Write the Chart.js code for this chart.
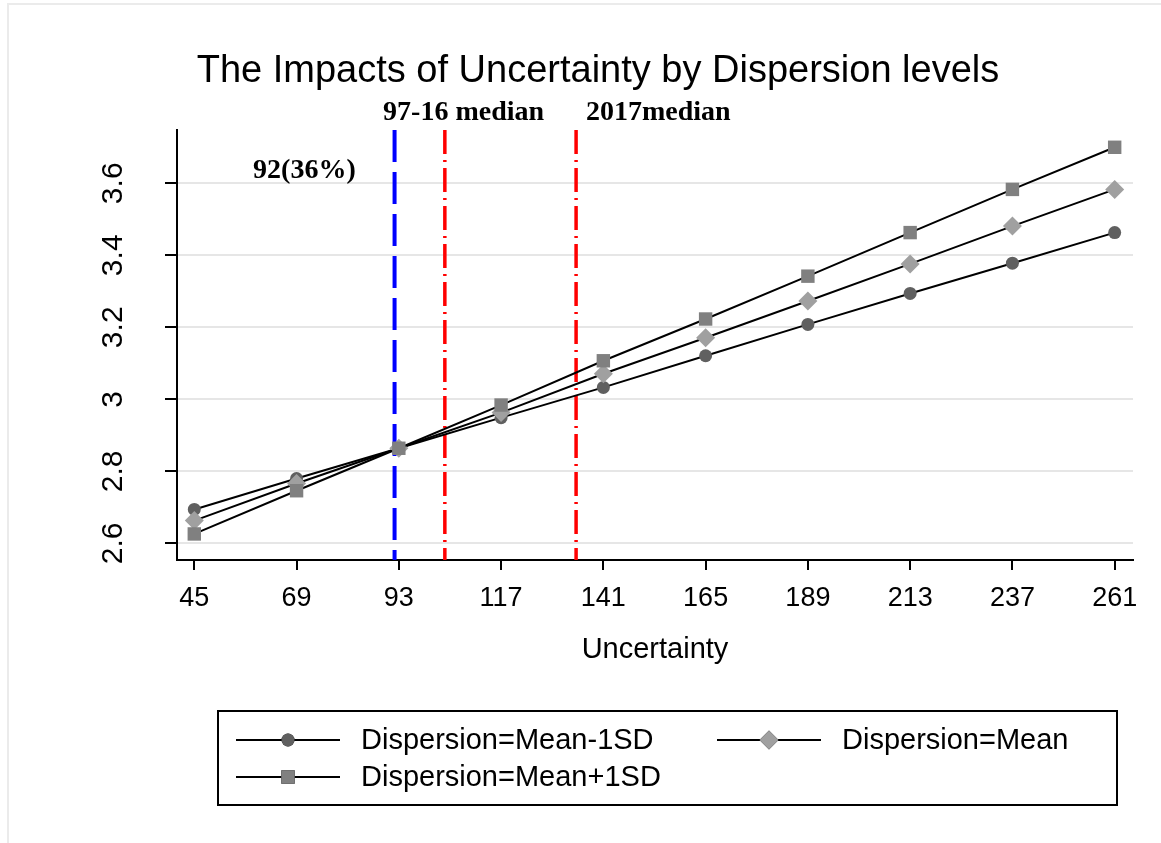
<!DOCTYPE html>
<html>
<head>
<meta charset="utf-8">
<title>The Impacts of Uncertainty by Dispersion levels</title>
<script src="https://cdn.jsdelivr.net/npm/chart.js@4.4.0/dist/chart.umd.min.js"></script>
<style>
  html, body { margin: 0; padding: 0; background: #fff; }
  canvas { display: block; }
</style>
</head>
<body>
<canvas id="chart" width="1161" height="843"></canvas>
<script>
// uncertainty levels on the x axis
const uncertainty = [45, 69, 93, 117, 141, 165, 189, 213, 237, 261];
const yTicks = [2.6, 2.8, 3, 3.2, 3.4, 3.6];

const seriesNames = ['Dispersion=Mean-1SD', 'Dispersion=Mean', 'Dispersion=Mean+1SD'];
const lowDisp  = [2.694, 2.780, 2.864, 2.949, 3.033, 3.121, 3.208, 3.294, 3.378, 3.463];
const meanDisp = [2.663, 2.766, 2.864, 2.963, 3.071, 3.171, 3.273, 3.376, 3.481, 3.583];
const highDisp = [2.626, 2.746, 2.864, 2.984, 3.107, 3.223, 3.342, 3.463, 3.583, 3.700];

// vertical reference lines (x values)
const blueLine = [92];
const redLines = [103.8, 134.6];

const notes = ['97-16 median', '2017median', '92(36%)'];
const noteX = [89.3, 136.9, 58.8];
const noteY = [3.776, 3.776, 3.615];

const toPts = vals => vals.map((v, i) => ({ x: uncertainty[i], y: v }));

const markers = [
  { style: 'circle',  radius: 6.5, color: '#606060' },
  { style: 'rectRot', radius: 9.5, color: '#a0a0a0' },
  { style: 'rect',    radius: 9.5, color: '#808080' }
];

const datasets = [lowDisp, meanDisp, highDisp].map((vals, i) => ({
  label: seriesNames[i],
  data: toPts(vals),
  borderColor: '#000',
  borderWidth: 2,
  pointStyle: markers[i].style,
  pointRadius: markers[i].radius,
  pointBackgroundColor: markers[i].color,
  pointBorderColor: markers[i].color,
  pointBorderWidth: 0,
  order: 2 - i
}));

const extras = {
  id: 'extras',
  beforeDraw(chart) {
    const ctx = chart.ctx;
    ctx.save();
    ctx.fillStyle = '#ebebeb';
    ctx.fillRect(7, 3, 1161, 2);
    ctx.fillRect(7, 3, 2, 843);
    ctx.restore();
  },
  beforeDatasetsDraw(chart) {
    const { ctx, chartArea, scales } = chart;
    ctx.save();
    blueLine.forEach(v => {
      const px = scales.x.getPixelForValue(v);
      ctx.strokeStyle = '#0000ff';
      ctx.lineWidth = 4;
      ctx.setLineDash([32, 10]);
      ctx.beginPath();
      ctx.moveTo(px, chartArea.top);
      ctx.lineTo(px, chartArea.bottom);
      ctx.stroke();
    });
    redLines.forEach(v => {
      const px = scales.x.getPixelForValue(v);
      ctx.strokeStyle = '#ff0000';
      ctx.lineWidth = 3.5;
      ctx.setLineDash([24, 6, 2, 6]);
      ctx.beginPath();
      ctx.moveTo(px, chartArea.top);
      ctx.lineTo(px, chartArea.bottom);
      ctx.stroke();
    });
    ctx.restore();
  },
  afterDraw(chart) {
    const { ctx, scales } = chart;
    ctx.save();

    // notes next to the reference lines
    ctx.fillStyle = '#000';
    ctx.font = 'bold 28px "Liberation Serif", "Times New Roman", serif';
    ctx.textAlign = 'left';
    ctx.textBaseline = 'alphabetic';
    notes.forEach((t, i) => {
      ctx.fillText(t, scales.x.getPixelForValue(noteX[i]), scales.y.getPixelForValue(noteY[i]));
    });

    // rotated y tick labels
    ctx.font = '30px "Liberation Sans", Arial, sans-serif';
    ctx.textAlign = 'center';
    yTicks.forEach(v => {
      const py = scales.y.getPixelForValue(v);
      ctx.save();
      ctx.translate(122, py);
      ctx.rotate(-Math.PI / 2);
      ctx.fillText(String(v), 0, 0);
      ctx.restore();
    });

    // legend box
    ctx.strokeStyle = '#000';
    ctx.lineWidth = 2;
    ctx.strokeRect(218, 711, 899, 94);
    const slots = [[236, 740], [717, 740], [236, 777]];
    ctx.font = '29px "Liberation Sans", Arial, sans-serif';
    ctx.textAlign = 'left';
    ctx.textBaseline = 'middle';
    chart.data.datasets.forEach((ds, i) => {
      const [lx, ly] = slots[i];
      ctx.strokeStyle = '#000';
      ctx.lineWidth = 2;
      ctx.beginPath();
      ctx.moveTo(lx, ly);
      ctx.lineTo(lx + 104, ly);
      ctx.stroke();
      Chart.helpers.drawPoint(ctx, {
        pointStyle: ds.pointStyle,
        radius: ds.pointRadius,
        borderWidth: 0,
        rotation: 0
      }, lx + 52, ly);
      ctx.fillStyle = ds.pointBackgroundColor;
      ctx.fill();
      ctx.fillStyle = '#000';
      ctx.fillText(ds.label, lx + 125, ly + 1);
    });
    ctx.restore();
  }
};

Chart.defaults.font.family = '"Liberation Sans", Arial, sans-serif';
Chart.defaults.color = '#000';

new Chart(document.getElementById('chart'), {
  type: 'line',
  data: { datasets: datasets },
  options: {
    responsive: false,
    animation: false,
    devicePixelRatio: 1,
    layout: { padding: { left: 63, right: 28, top: 0, bottom: 160 } },
    plugins: {
      legend: { display: false },
      tooltip: { enabled: false },
      title: {
        display: true,
        text: 'The Impacts of Uncertainty by Dispersion levels',
        color: '#000',
        font: { size: 38, weight: 'normal' },
        padding: { top: 49, bottom: 35.4 }
      }
    },
    scales: {
      x: {
        type: 'linear',
        min: 40.94,
        max: 265.3,
        afterBuildTicks: s => { s.ticks = uncertainty.map(v => ({ value: v })); },
        afterFit: s => { s.height = 123; },
        grid: { drawOnChartArea: false, drawTicks: true, tickLength: 10, tickColor: '#000', lineWidth: 2 },
        border: { color: '#000', width: 2 },
        ticks: { font: { size: 27 }, padding: 12, maxRotation: 0, autoSkip: false, color: '#000' },
        title: {
          display: true,
          text: 'Uncertainty',
          font: { size: 29 },
          color: '#000',
          padding: { top: 0, bottom: 16 }
        }
      },
      y: {
        min: 2.5536,
        max: 3.748,
        afterBuildTicks: s => { s.ticks = yTicks.map(v => ({ value: v })); },
        afterFit: s => { s.width = 114; },
        grid: { color: '#e6e6e6', lineWidth: 2, tickLength: 12, tickColor: '#000' },
        border: { color: '#000', width: 2 },
        ticks: { display: false }
      }
    }
  },
  plugins: [extras]
});
</script>
</body>
</html>
